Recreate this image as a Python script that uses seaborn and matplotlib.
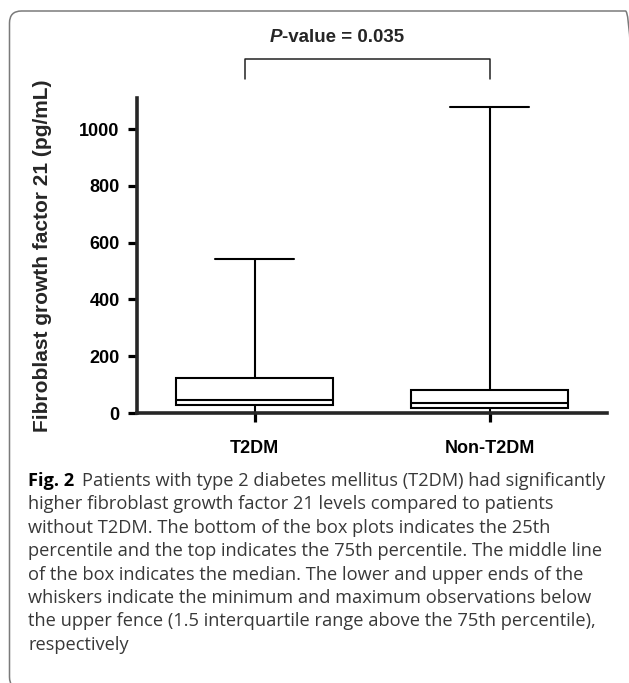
import numpy as np
import pandas as pd
import seaborn as sns
import matplotlib.pyplot as plt
from matplotlib.patches import FancyBboxPatch

# groups and five-number summaries (pg/mL)
# order: minimum, 25th pct, median, 75th pct, maximum below upper fence
groups = ["T2DM", "Non-T2DM"]
t2dm_vals = [0, 28, 45, 124, 542]
non_t2dm_vals = [0, 17, 35, 81, 1077]
y_ticks = [0, 200, 400, 600, 800, 1000]
p_value = "0.035"

caption_lines = [
    "Patients with type 2 diabetes mellitus (T2DM) had significantly",
    "higher fibroblast growth factor 21 levels compared to patients",
    "without T2DM. The bottom of the box plots indicates the 25th",
    "percentile and the top indicates the 75th percentile. The middle line",
    "of the box indicates the median. The lower and upper ends of the",
    "whiskers indicate the minimum and maximum observations below",
    "the upper fence (1.5 interquartile range above the 75th percentile),",
    "respectively",
]

df = pd.DataFrame({
    "group": np.repeat(groups, len(t2dm_vals)),
    "fgf21": t2dm_vals + non_t2dm_vals,
})

sns.set_style("ticks")
plt.rcParams["font.family"] = ["Liberation Sans", "DejaVu Sans"]

W, H = 629, 683
fig = plt.figure(figsize=(W / 100, H / 100), dpi=100)
px = fig.dpi_scale_trans  # inches == pixels / 100


def py(y):
    # pixel row from top -> inches from bottom
    return (H - y) / 100


# rounded frame around figure + caption (runs off the right and bottom edges)
frame = FancyBboxPatch((0.095, -0.06), 6.28, py(11) + 0.06,
                       boxstyle="round,pad=0,rounding_size=0.12",
                       transform=px, fill=False, edgecolor="#7a7a7a", linewidth=1.1)
fig.patches.append(frame)

ax = fig.add_axes([137 / W, 1 - 413 / H, 470 / W, 315 / H])

sns.boxplot(data=df, x="group", y="fgf21", order=groups, width=0.67,
            whis=(0, 100), color="white", saturation=1, linecolor="black",
            linewidth=1.5, ax=ax)

ax.set_xlim(-0.5, 1.5)
ax.set_ylim(0, 1110)
ax.set_yticks(y_ticks)
ax.set_xlabel("")
ax.set_ylabel("Fibroblast growth factor 21 (pg/mL)", fontsize=15,
              fontweight="bold", va="center")
ax.yaxis.set_label_coords((43 - 137) / 470, 0.5)
sns.despine(ax=ax)
for side in ["left", "bottom"]:
    ax.spines[side].set_linewidth(2.6)
    ax.spines[side].set_zorder(5)
ax.tick_params(axis="both", direction="out", length=6.5, width=2.3,
               labelsize=13, colors="black")
ax.tick_params(axis="y", pad=6)
ax.tick_params(axis="x", pad=13)
for lab in ax.get_xticklabels() + ax.get_yticklabels():
    lab.set_fontweight("bold")

# significance bracket
ax.plot([-0.04, -0.04, 1.0, 1.0], [1176, 1246, 1246, 1176], color="#222222",
        linewidth=1.1, clip_on=False)

renderer = fig.canvas.get_renderer()
t1 = fig.text(0, py(38), "P", transform=px, fontsize=13.5, fontweight="bold",
              fontstyle="italic", va="center")
t2 = fig.text(0, py(38), "-value = " + p_value, transform=px, fontsize=13.5,
              fontweight="bold", va="center")
w1 = t1.get_window_extent(renderer).width
w2 = t2.get_window_extent(renderer).width
x0 = 337 - (w1 + w2) / 2
t1.set_x(x0 / 100)
t2.set_x((x0 + w1) / 100)

# caption, sized so the widest line fits the printed width
cap_font = ["Open Sans", "DejaVu Sans"]
probe = fig.text(0, 0, caption_lines[3], fontsize=10, family=cap_font)
cap_size = 10 * 574 / probe.get_window_extent(renderer).width
probe.remove()

line_y = 481
step = 23.4
fig_lbl = fig.text(0.28, py(line_y), "Fig. 2", transform=px, fontsize=cap_size,
                   fontweight="bold", family=cap_font, color="black", va="center")
wl = fig_lbl.get_window_extent(renderer).width
for i, line in enumerate(caption_lines):
    x = 28 + (wl + 8 if i == 0 else 0)
    fig.text(x / 100, py(line_y + i * step), line, transform=px,
             fontsize=cap_size, family=cap_font, color="#383838", va="center")

fig.savefig("out.png", dpi=100)
